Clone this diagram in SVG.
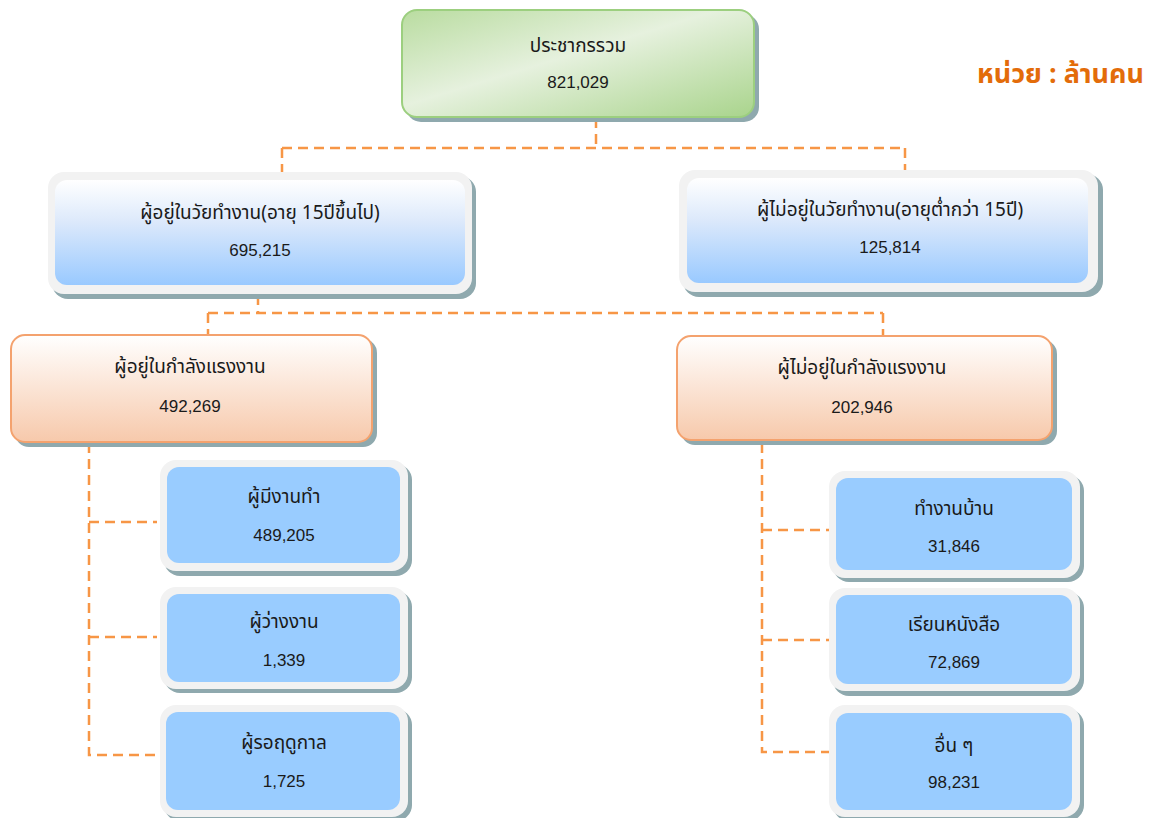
<svg xmlns="http://www.w3.org/2000/svg" width="1153" height="818" viewBox="0 0 1153 818">
<defs>
<linearGradient id="gGreen" x1="0" y1="0" x2="1" y2="1">
<stop offset="0" stop-color="#b9dca0"/>
<stop offset="0.45" stop-color="#e6f1de"/>
<stop offset="1" stop-color="#a9d48c"/>
</linearGradient>
<linearGradient id="gBlue" x1="0" y1="0" x2="0" y2="1">
<stop offset="0" stop-color="#ffffff"/>
<stop offset="0.4" stop-color="#dce9fb"/>
<stop offset="1" stop-color="#99c9ff"/>
</linearGradient>
<linearGradient id="gOrange" x1="0" y1="0" x2="0" y2="1">
<stop offset="0" stop-color="#ffffff"/>
<stop offset="1" stop-color="#f7c9ab"/>
</linearGradient>
<style>
.t{font-family:"Noto Sans Thai","Noto Sans","DejaVu Sans","Liberation Sans",sans-serif;font-size:19px;fill:#1a1a1a;text-anchor:middle}
.n{font-family:"Liberation Sans",Arial,sans-serif;font-size:17px;fill:#1a1a1a;text-anchor:middle}
.sh{fill:#8fa9ae}
.frame{fill:#f2f2f2}
.leaf{fill:#99ccff}
.c{fill:none;stroke:#f79646;stroke-width:2.5;stroke-dasharray:10,6}
.unit{font-family:"Noto Sans Thai","Noto Sans","DejaVu Sans","Liberation Sans",sans-serif;font-size:27px;font-weight:bold;fill:#e36c0a}
</style>
</defs>
<rect width="1153" height="818" fill="#ffffff"/>

<g id="connectors">
<path class="c" d="M596,118 V148 M282,148 H905 M282,148 V175 M905,148 V172"/>
<path class="c" d="M258,295 V313 M208,313 H883 M208,313 V336 M883,313 V337"/>
<path class="c" d="M89,443 V755 H157 M89,522 H157 M89,637 H157"/>
<path class="c" d="M762,443 V752 H830 M762,530 H830 M762,640 H830"/>
</g>

<g id="total">
<rect class="sh" x="406" y="14" width="353" height="108" rx="15"/>
<rect x="402" y="10" width="352" height="107" rx="15" fill="url(#gGreen)" stroke="#9ccf7f" stroke-width="2"/>
<text class="t" x="578" y="52">ประชากรรวม</text>
<text class="n" x="578" y="88">821,029</text>
</g>

<g id="unit">
<text class="unit" x="977" y="83">หน่วย : ล้านคน</text>
</g>

<g id="working-age">
<rect class="sh" x="52" y="176" width="424" height="123" rx="16"/>
<rect class="frame" x="48" y="172" width="424" height="122" rx="16"/>
<rect x="55" y="180" width="410" height="105" rx="12" fill="url(#gBlue)"/>
<text class="t" x="260" y="219">ผู้อยู่ในวัยทำงาน(อายุ 15ปีขึ้นไป)</text>
<text class="n" x="260" y="256">695,215</text>
</g>

<g id="non-working-age">
<rect class="sh" x="683" y="174" width="420" height="123" rx="16"/>
<rect class="frame" x="679" y="170" width="419" height="122" rx="16"/>
<rect x="687" y="178" width="401" height="105" rx="12" fill="url(#gBlue)"/>
<text class="t" x="890" y="216">ผู้ไม่อยู่ในวัยทำงาน(อายุต่ำกว่า 15ปี)</text>
<text class="n" x="890" y="253">125,814</text>
</g>

<g id="labor-force">
<rect class="sh" x="15" y="339" width="362" height="108" rx="14"/>
<rect x="11" y="335" width="361" height="107" rx="14" fill="url(#gOrange)" stroke="#f4a26e" stroke-width="2"/>
<text class="t" x="190" y="373">ผู้อยู่ในกำลังแรงงาน</text>
<text class="n" x="190" y="412">492,269</text>
</g>

<g id="not-labor-force">
<rect class="sh" x="681" y="340" width="376" height="105" rx="14"/>
<rect x="677" y="336" width="375" height="104" rx="14" fill="url(#gOrange)" stroke="#f4a26e" stroke-width="2"/>
<text class="t" x="862" y="374">ผู้ไม่อยู่ในกำลังแรงงาน</text>
<text class="n" x="862" y="413">202,946</text>
</g>

<g id="employed">
<rect class="sh" x="164" y="464" width="248" height="112" rx="16"/>
<rect class="frame" x="160" y="460" width="248" height="111" rx="16"/>
<rect class="leaf" x="167" y="467" width="233" height="96" rx="12"/>
<text class="t" x="284" y="503">ผู้มีงานทำ</text>
<text class="n" x="284" y="541">489,205</text>
</g>

<g id="unemployed">
<rect class="sh" x="164" y="591" width="248" height="102" rx="16"/>
<rect class="frame" x="160" y="587" width="248" height="102" rx="16"/>
<rect class="leaf" x="167" y="594" width="233" height="88" rx="12"/>
<text class="t" x="284" y="628">ผู้ว่างงาน</text>
<text class="n" x="284" y="666">1,339</text>
</g>

<g id="seasonal">
<rect class="sh" x="164" y="709" width="248" height="112" rx="16"/>
<rect class="frame" x="160" y="705" width="248" height="112" rx="16"/>
<rect class="leaf" x="166" y="712" width="234" height="98" rx="12"/>
<text class="t" x="284" y="749">ผู้รอฤดูกาล</text>
<text class="n" x="284" y="787">1,725</text>
</g>

<g id="housework">
<rect class="sh" x="833" y="475" width="251" height="107" rx="16"/>
<rect class="frame" x="829" y="471" width="251" height="107" rx="16"/>
<rect class="leaf" x="836" y="478" width="236" height="92" rx="12"/>
<text class="t" x="954" y="515">ทำงานบ้าน</text>
<text class="n" x="954" y="552">31,846</text>
</g>

<g id="studying">
<rect class="sh" x="833" y="592" width="251" height="104" rx="16"/>
<rect class="frame" x="829" y="588" width="251" height="103" rx="16"/>
<rect class="leaf" x="836" y="595" width="236" height="89" rx="12"/>
<text class="t" x="954" y="631">เรียนหนังสือ</text>
<text class="n" x="954" y="668">72,869</text>
</g>

<g id="others">
<rect class="sh" x="833" y="709" width="251" height="112" rx="16"/>
<rect class="frame" x="829" y="705" width="251" height="112" rx="16"/>
<rect class="leaf" x="836" y="713" width="236" height="97" rx="12"/>
<text class="t" x="954" y="752">อื่น ๆ</text>
<text class="n" x="954" y="788">98,231</text>
</g>
</svg>
